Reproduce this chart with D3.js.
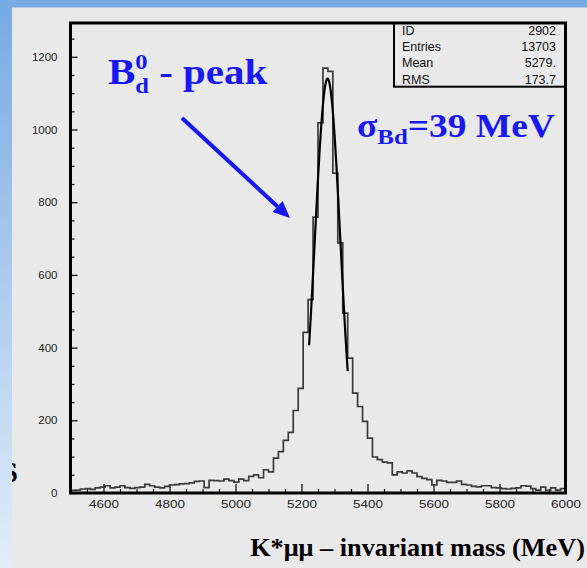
<!DOCTYPE html>
<html>
<head>
<meta charset="utf-8">
<script src="https://cdnjs.cloudflare.com/ajax/libs/d3/7.8.5/d3.min.js"></script>
<style>
  html, body { margin: 0; padding: 0; background: #ffffff; }
  svg { display: block; }
</style>
</head>
<body>
<script>
// K*mumu invariant mass histogram, 15 MeV bins from 4500 to 6000 MeV
const binLow = d3.range(4500, 6000, 15);
const counts = [
  7, 8, 11, 12, 10, 14, 16, 20, 14, 16, 20, 15, 13, 15, 16, 24, 20, 16, 14, 18,
  22, 23, 25, 26, 28, 32, 33, 15, 35, 34, 33, 38, 34, 30,
  38, 34, 46, 50, 42, 64, 58, 96, 114, 145, 167, 227, 288,
  442, 532, 759, 1018, 1169, 1160, 880, 688, 495, 371, 275, 238,
  197, 151, 99, 92, 85, 83, 50, 58, 55, 61, 55, 45, 40, 37, 22,
  35, 33, 29, 29, 33, 24, 22, 18, 17, 20, 20, 15, 14, 12, 11, 13, 14, 20, 19, 12,
  8, 16, 7, 14, 8, 12
];

// Gaussian fit of the B0d peak
const fitMean = 5279;
const fitSigma = 39;
const fitAmplitude = 1140;
const fitRange = [5223, 5340];

// Axis settings
const xDomain = [4500, 6000];
const yDomain = [0, 1293];
const xMajorTicks = [4600, 4800, 5000, 5200, 5400, 5600, 5800, 6000];
const yMajorTicks = [0, 200, 400, 600, 800, 1000, 1200];

// Statistics box
const statNames = ["ID", "Entries", "Mean", "RMS"];
const statValues = ["2902", "13703", "5279.", "173.7"];

const W = 587, H = 568;
const svg = d3.select("body").append("svg")
  .attr("width", W).attr("height", H)
  .attr("viewBox", `0 0 ${W} ${H}`);

// stretch a text element horizontally so it spans the wanted width
function stretchTo(sel, anchorX, width) {
  const bb = sel.node().getBBox();
  const s = width / bb.width;
  sel.attr("transform", `translate(${anchorX},0) scale(${s},1) translate(${-anchorX},0)`);
}

const defs = svg.append("defs");
const grad = defs.append("linearGradient")
  .attr("id", "bgGrad").attr("x1", 0).attr("y1", 0).attr("x2", 0).attr("y2", 1);
grad.append("stop").attr("offset", "0%").attr("stop-color", "#76aae3");
grad.append("stop").attr("offset", "100%").attr("stop-color", "#e2edf9");

defs.append("clipPath").attr("id", "panelClip")
  .append("rect").attr("x", 12).attr("y", 7.5).attr("width", W - 12).attr("height", H - 7.5);

// slide background and grey panel
svg.append("rect").attr("width", W).attr("height", H).attr("fill", "url(#bgGrad)");
svg.append("rect").attr("x", 12).attr("y", 7.5).attr("width", W - 12).attr("height", H - 7.5)
  .attr("fill", "#e9e9e9");

// piece of a label cut off by the panel edge
svg.append("g").attr("clip-path", "url(#panelClip)")
  .append("text")
  .attr("x", 18).attr("y", 482)
  .attr("text-anchor", "end")
  .attr("font-family", "'Liberation Serif', 'Times New Roman', serif")
  .attr("font-weight", "bold").attr("font-size", 30)
  .attr("fill", "#000").text("S");

const plot = { left: 70.5, right: 565.5, top: 23, bottom: 493 };

const x = d3.scaleLinear().domain(xDomain).range([plot.left, plot.right]);
const y = d3.scaleLinear().domain(yDomain).range([plot.bottom, plot.top]);

const tickFont = "'Liberation Sans', Arial, Helvetica, sans-serif";

// x axis: major and minor ticks pointing into the plot
const xMinor = d3.range(4550, 6000, 50).filter(v => !xMajorTicks.includes(v));
const gx = svg.append("g").attr("transform", `translate(0,${plot.bottom})`)
  .call(d3.axisBottom(x).tickValues(xMajorTicks).tickSize(-9).tickPadding(7).tickFormat(d3.format("d")));
gx.select(".domain").remove();
gx.selectAll("line").attr("stroke", "#111").attr("stroke-width", 1.3);
gx.selectAll("text").attr("font-family", tickFont).attr("font-size", 11.5).attr("fill", "#222")
  .attr("textLength", 30).attr("lengthAdjust", "spacingAndGlyphs");

const gxm = svg.append("g").attr("transform", `translate(0,${plot.bottom})`)
  .call(d3.axisBottom(x).tickValues(xMinor).tickSize(-4).tickFormat(""));
gxm.select(".domain").remove();
gxm.selectAll("line").attr("stroke", "#111").attr("stroke-width", 1.2);

// y axis
const yMinor = d3.range(50, 1293, 50).filter(v => !yMajorTicks.includes(v));
const gy = svg.append("g").attr("transform", `translate(${plot.left},0)`)
  .call(d3.axisLeft(y).tickValues(yMajorTicks).tickSize(-7).tickPadding(13).tickFormat(d3.format("d")));
gy.select(".domain").remove();
gy.selectAll("line").attr("stroke", "#111").attr("stroke-width", 1.3);
gy.selectAll("text").attr("font-family", tickFont).attr("font-size", 11.5).attr("fill", "#222");

const gym = svg.append("g").attr("transform", `translate(${plot.left},0)`)
  .call(d3.axisLeft(y).tickValues(yMinor).tickSize(-4).tickFormat(""));
gym.select(".domain").remove();
gym.selectAll("line").attr("stroke", "#111").attr("stroke-width", 1.2);

// histogram outline
const histPoints = binLow.map((b, i) => [b, counts[i]]);
histPoints.push([xDomain[1], counts[counts.length - 1]]);
const stepLine = d3.line().x(d => x(d[0])).y(d => y(d[1])).curve(d3.curveStepAfter);
svg.append("path").datum(histPoints)
  .attr("d", stepLine)
  .attr("fill", "none").attr("stroke", "#3a3a3a").attr("stroke-width", 1.7);

// Gaussian fit curve
const gauss = m => fitAmplitude * Math.exp(-0.5 * Math.pow((m - fitMean) / fitSigma, 2));
const fitPoints = d3.range(fitRange[0], fitRange[1] + 0.5, 1).map(m => [m, gauss(m)]);
svg.append("path").datum(fitPoints)
  .attr("d", d3.line().x(d => x(d[0])).y(d => y(d[1])))
  .attr("fill", "none").attr("stroke", "#000").attr("stroke-width", 2.2);

// frame
svg.append("rect")
  .attr("x", plot.left).attr("y", plot.top)
  .attr("width", plot.right - plot.left).attr("height", plot.bottom - plot.top)
  .attr("fill", "none").attr("stroke", "#000").attr("stroke-width", 3);

// statistics box
const box = { x: 394, y: plot.top, w: plot.right - 394, h: 63.7 };
svg.append("rect").attr("x", box.x).attr("y", box.y).attr("width", box.w).attr("height", box.h)
  .attr("fill", "none").attr("stroke", "#000").attr("stroke-width", 2);
const rowY = [30.7, 46, 62.7, 79];
statNames.forEach((n, i) => {
  svg.append("text").attr("x", 402).attr("y", rowY[i]).attr("dy", "0.36em")
    .attr("font-family", tickFont).attr("font-size", 12.5).attr("fill", "#111").text(n);
  svg.append("text").attr("x", 556).attr("y", rowY[i]).attr("dy", "0.36em")
    .attr("text-anchor", "end")
    .attr("font-family", tickFont).attr("font-size", 12.5).attr("fill", "#111").text(statValues[i]);
});

// annotations
const blue = "#1818f0";
const serif = "'Liberation Serif', 'Times New Roman', serif";

const peakLabel = svg.append("text").attr("x", 108).attr("y", 84)
  .attr("font-family", serif).attr("font-weight", "bold").attr("font-size", 35).attr("fill", blue);
peakLabel.append("tspan").text("B");
peakLabel.append("tspan").attr("font-size", 21).attr("dy", -15).text("0");
peakLabel.append("tspan").attr("font-size", 21).attr("dx", -10.5).attr("dy", 24).text("d");
peakLabel.append("tspan").attr("dy", -9).text(" - peak");
stretchTo(peakLabel, 108, 160);

const sigmaLabel = svg.append("text").attr("x", 357).attr("y", 137)
  .attr("font-family", serif).attr("font-weight", "bold").attr("font-size", 33).attr("fill", blue);
sigmaLabel.append("tspan").text("σ");
sigmaLabel.append("tspan").attr("font-size", 22).attr("dy", 7).text("Bd");
sigmaLabel.append("tspan").attr("dy", -7).text("=39 MeV");
stretchTo(sigmaLabel, 357, 198);

// arrow pointing at the peak
const a0 = [182, 118], a1 = [290, 218];
const ang = Math.atan2(a1[1] - a0[1], a1[0] - a0[0]);
const headLen = 17, headHalf = 7.5;
const base = [a1[0] - headLen * Math.cos(ang), a1[1] - headLen * Math.sin(ang)];
svg.append("line")
  .attr("x1", a0[0]).attr("y1", a0[1]).attr("x2", base[0]).attr("y2", base[1])
  .attr("stroke", blue).attr("stroke-width", 4);
svg.append("polygon")
  .attr("points", [
    a1,
    [base[0] + headHalf * Math.sin(ang), base[1] - headHalf * Math.cos(ang)],
    [base[0] - headHalf * Math.sin(ang), base[1] + headHalf * Math.cos(ang)]
  ].map(p => p.join(",")).join(" "))
  .attr("fill", blue);

// x axis title
const xTitle = svg.append("text").attr("x", 585).attr("y", 556)
  .attr("text-anchor", "end")
  .attr("font-family", serif).attr("font-weight", "bold").attr("font-size", 25).attr("fill", "#000")
  .text("K*μμ – invariant mass (MeV)");
stretchTo(xTitle, 585, 335);
</script>
</body>
</html>
